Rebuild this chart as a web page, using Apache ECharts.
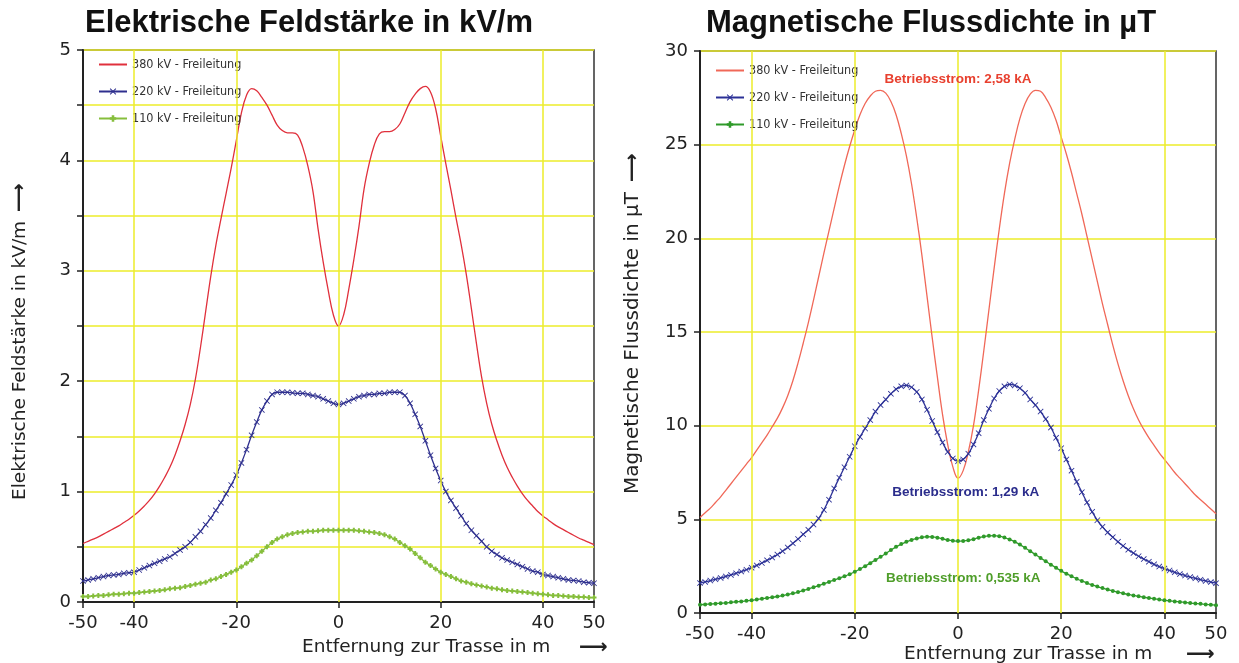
<!DOCTYPE html>
<html><head><meta charset="utf-8">
<script src="https://cdn.jsdelivr.net/npm/echarts@6/dist/echarts.min.js"></script>
<style>html,body{margin:0;padding:0;background:#fff}#c{width:1239px;height:663px}</style>
</head><body><div id="c"></div>
<script>
// ---- data ----
const distances = [-50,-49,-48,-47,-46,-45,-44,-43,-42,-41,-40,-39,-38,-37,-36,-35,-34,-33,-32,-31,-30,-29,-28,-27,-26,-25,-24,-23,-22,-21,-20,-19,-18,-17,-16,-15,-14,-13,-12,-11,-10,-9,-8,-7,-6,-5,-4,-3,-2,-1,0,1,2,3,4,5,6,7,8,9,10,11,12,13,14,15,16,17,18,19,20,21,22,23,24,25,26,27,28,29,30,31,32,33,34,35,36,37,38,39,40,41,42,43,44,45,46,47,48,49,50];

const seriesNames = ['380 kV - Freileitung','220 kV - Freileitung','110 kV - Freileitung'];

// Elektrische Feldstärke (kV/m)
const eField380 = [0.53,0.55,0.57,0.59,0.615,0.64,0.665,0.69,0.72,0.75,0.785,0.825,0.87,0.92,0.98,1.05,1.13,1.22,1.33,1.46,1.61,1.79,2.02,2.31,2.63,2.95,3.23,3.47,3.70,3.93,4.18,4.43,4.59,4.65,4.63,4.57,4.50,4.41,4.32,4.27,4.25,4.25,4.23,4.12,3.95,3.72,3.38,3.08,2.82,2.60,2.50,2.60,2.83,3.10,3.40,3.74,3.97,4.14,4.24,4.26,4.26,4.28,4.33,4.43,4.53,4.60,4.65,4.67,4.62,4.47,4.22,3.97,3.73,3.48,3.24,2.97,2.66,2.34,2.04,1.80,1.61,1.46,1.33,1.22,1.13,1.05,0.98,0.92,0.87,0.82,0.78,0.745,0.71,0.68,0.655,0.63,0.605,0.58,0.56,0.54,0.52];
const eField220 = [0.19,0.20,0.21,0.22,0.23,0.24,0.245,0.25,0.26,0.265,0.27,0.29,0.31,0.33,0.35,0.37,0.39,0.41,0.44,0.47,0.50,0.54,0.59,0.64,0.70,0.76,0.83,0.90,0.98,1.06,1.15,1.26,1.38,1.51,1.63,1.74,1.82,1.88,1.90,1.90,1.90,1.895,1.89,1.89,1.88,1.87,1.86,1.84,1.82,1.80,1.79,1.80,1.82,1.84,1.86,1.87,1.88,1.88,1.89,1.89,1.90,1.90,1.90,1.87,1.80,1.70,1.59,1.46,1.33,1.21,1.10,1.00,0.92,0.85,0.78,0.71,0.65,0.60,0.55,0.50,0.46,0.43,0.40,0.38,0.36,0.34,0.32,0.30,0.28,0.27,0.25,0.24,0.23,0.22,0.21,0.20,0.195,0.19,0.18,0.175,0.17];
const eField110 = [0.05,0.05,0.055,0.06,0.06,0.065,0.07,0.07,0.075,0.08,0.08,0.085,0.09,0.095,0.10,0.105,0.11,0.12,0.125,0.13,0.14,0.15,0.16,0.17,0.18,0.20,0.21,0.23,0.25,0.27,0.29,0.32,0.35,0.38,0.42,0.46,0.50,0.54,0.57,0.59,0.61,0.62,0.63,0.635,0.64,0.64,0.645,0.65,0.65,0.65,0.65,0.65,0.65,0.65,0.645,0.64,0.635,0.63,0.62,0.61,0.59,0.57,0.54,0.51,0.48,0.44,0.40,0.36,0.33,0.30,0.27,0.25,0.23,0.21,0.19,0.18,0.165,0.155,0.145,0.135,0.125,0.12,0.11,0.105,0.10,0.095,0.09,0.085,0.08,0.075,0.07,0.065,0.06,0.06,0.055,0.05,0.05,0.045,0.045,0.04,0.04];

// Magnetische Flussdichte (µT)
const bField380 = [5.1,5.35,5.6,5.9,6.2,6.55,6.9,7.25,7.6,7.95,8.3,8.7,9.1,9.5,9.95,10.4,10.95,11.6,12.4,13.35,14.4,15.5,16.7,17.95,19.2,20.4,21.6,22.8,23.9,24.9,25.8,26.6,27.2,27.6,27.85,27.9,27.75,27.3,26.6,25.6,24.4,22.9,21.1,19.1,16.9,14.7,12.6,10.6,9.0,7.8,7.2,7.6,8.6,10.0,11.9,14.0,16.2,18.4,20.5,22.4,24.0,25.3,26.4,27.2,27.7,27.9,27.85,27.5,27.0,26.3,25.4,24.5,23.5,22.4,21.3,20.1,18.9,17.7,16.5,15.4,14.3,13.3,12.4,11.6,10.9,10.3,9.8,9.35,8.95,8.55,8.2,7.85,7.5,7.2,6.9,6.6,6.3,6.05,5.8,5.55,5.3];
const bField220 = [1.6,1.66,1.73,1.8,1.87,1.95,2.03,2.12,2.21,2.31,2.42,2.54,2.67,2.81,2.96,3.12,3.3,3.5,3.72,3.95,4.2,4.44,4.72,5.05,5.5,6.05,6.65,7.22,7.78,8.34,8.9,9.4,9.85,10.3,10.75,11.1,11.4,11.7,11.95,12.1,12.15,12.05,11.8,11.4,10.85,10.25,9.65,9.1,8.6,8.25,8.1,8.2,8.5,9.0,9.6,10.3,10.9,11.45,11.85,12.1,12.2,12.15,12.0,11.75,11.4,11.1,10.75,10.35,9.9,9.35,8.8,8.2,7.6,7.0,6.45,5.9,5.4,4.95,4.6,4.3,4.05,3.8,3.58,3.38,3.2,3.03,2.88,2.74,2.6,2.48,2.37,2.27,2.17,2.08,2.0,1.92,1.85,1.78,1.71,1.65,1.59];
const bField110 = [0.44,0.46,0.48,0.5,0.52,0.54,0.57,0.6,0.62,0.65,0.68,0.72,0.76,0.8,0.84,0.88,0.93,0.99,1.05,1.12,1.2,1.28,1.37,1.46,1.56,1.66,1.76,1.86,1.96,2.07,2.2,2.35,2.5,2.66,2.83,3.0,3.18,3.36,3.53,3.68,3.8,3.9,3.98,4.04,4.07,4.06,4.02,3.96,3.9,3.86,3.84,3.85,3.88,3.94,4.02,4.08,4.12,4.13,4.1,4.03,3.93,3.8,3.65,3.48,3.3,3.12,2.94,2.76,2.58,2.41,2.25,2.1,1.96,1.83,1.71,1.6,1.5,1.41,1.33,1.25,1.18,1.11,1.05,0.99,0.94,0.89,0.84,0.8,0.76,0.72,0.68,0.65,0.62,0.59,0.56,0.53,0.51,0.49,0.46,0.44,0.42];

const xTickValues = [-50,-40,-20,0,20,40,50];
const xGridValues = [-40,-20,0,20,40];
const annotationTexts = ['Betriebsstrom: 2,58 kA','Betriebsstrom: 1,29 kA','Betriebsstrom: 0,535 kA'];
const annotationCoords = [[0,28.5],[1.5,6.45],[1,1.87]];

// ---- chart ----
const YEL = '#ecec2a';
const AX = '#222';
const xMark = 'path://M0,1L1,0L5,4L9,0L10,1L6,5L10,9L9,10L5,6L1,10L0,9L4,5Z';
const plusMark = 'path://M3,0L7,0L7,3L10,3L10,7L7,7L7,10L3,10L3,7L0,7L0,3L3,3Z';
const C = {
  eRed:'#e0303c', eBlue:'#2e2f8e', eGreen:'#86be3c',
  bRed:'#f06858', bBlue:'#2b3096', bGreen:'#2f9a2a'
};
function pairs(ys){ return distances.map((x,i)=>[x, ys[i]]); }

function xAxisFor(g){
  return {gridIndex:g, type:'value', min:-50, max:50, interval:10,
    axisLine:{show:true, onZero:false, lineStyle:{color:AX, width:2}},
    axisTick:{show:true, customValues:xTickValues, length:6, lineStyle:{color:AX, width:1.5}},
    axisLabel:{customValues:xTickValues, fontFamily:'DejaVu Sans', fontSize:18, color:AX, margin:12},
    splitLine:{show:false}};
}
function gridLines(g){
  return {type:'line', xAxisIndex:g, yAxisIndex:g, data:[], z:1, silent:true,
    markLine:{silent:true, symbol:['none','none'], animation:false, label:{show:false},
      lineStyle:{color:YEL, type:'solid', width:1.5},
      data:xGridValues.map(v=>({xAxis:v}))}};
}
function lineSeries(name, g, ys, color, symbol, size, z){
  return {name:name, type:'line', xAxisIndex:g, yAxisIndex:g, data:pairs(ys), z:z,
    smooth:0.4, symbol:symbol||'none', symbolSize:size||0, showSymbol:!!symbol,
    lineStyle:{color:color, width:1.3}, itemStyle:{color:color}, emphasis:{disabled:true}};
}
const legendText = {fontFamily:'DejaVu Sans Condensed', fontSize:12.5, color:'#333'};

const option = {
  animation:false,
  backgroundColor:'#fff',
  grid:[
    {left:83, top:50, width:511, height:552, show:true, borderColor:'#333', borderWidth:1.5, backgroundColor:'#fff'},
    {left:700, top:51, width:516, height:562, show:true, borderColor:'#333', borderWidth:1.5, backgroundColor:'#fff'}
  ],
  xAxis:[xAxisFor(0), xAxisFor(1)],
  yAxis:[
    {gridIndex:0, type:'value', min:0, max:5, interval:0.5,
     axisLine:{show:true, onZero:false, lineStyle:{color:AX, width:2}},
     axisTick:{show:true, length:6, lineStyle:{color:AX, width:1.5}},
     axisLabel:{fontFamily:'DejaVu Sans', fontSize:18, color:AX, margin:12,
       formatter:v=>Number.isInteger(v)?String(v):''},
     splitLine:{show:true, lineStyle:{color:YEL, width:1.5}}},
    {gridIndex:1, type:'value', min:0, max:30, interval:5,
     axisLine:{show:true, onZero:false, lineStyle:{color:AX, width:2}},
     axisTick:{show:true, length:6, lineStyle:{color:AX, width:1.5}},
     axisLabel:{fontFamily:'DejaVu Sans', fontSize:18, color:AX, margin:12},
     splitLine:{show:true, lineStyle:{color:YEL, width:1.5}}}
  ],
  legend:[
    {left:93, top:53, orient:'vertical', itemWidth:28, itemHeight:8, itemGap:14, selectedMode:false,
     textStyle:legendText,
     data:[
       {name:seriesNames[0], itemStyle:{color:C.eRed, opacity:0}, lineStyle:{color:C.eRed}},
       {name:seriesNames[1], itemStyle:{color:C.eBlue}, lineStyle:{color:C.eBlue}},
       {name:seriesNames[2], itemStyle:{color:C.eGreen}, lineStyle:{color:C.eGreen}}]},
    {left:710, top:59, orient:'vertical', itemWidth:28, itemHeight:8, itemGap:14, selectedMode:false,
     textStyle:legendText,
     data:[
       {name:seriesNames[0], itemStyle:{color:C.bRed, opacity:0}, lineStyle:{color:C.bRed}},
       {name:seriesNames[1], itemStyle:{color:C.bBlue}, lineStyle:{color:C.bBlue}},
       {name:seriesNames[2], itemStyle:{color:C.bGreen}, lineStyle:{color:C.bGreen}}]}
  ],
  series:[
    gridLines(0), gridLines(1),
    lineSeries(seriesNames[0],0,eField380,C.eRed,null,0,3),
    lineSeries(seriesNames[1],0,eField220,C.eBlue,xMark,6,4),
    lineSeries(seriesNames[2],0,eField110,C.eGreen,plusMark,5,5),
    Object.assign(lineSeries(seriesNames[0],1,bField380,C.bRed,null,0,3), {
      markPoint:{silent:true, symbol:'circle', symbolSize:1, itemStyle:{color:'rgba(0,0,0,0)'},
        label:{show:true, position:'inside', fontFamily:'Liberation Sans', fontWeight:'bold', fontSize:13.5},
        data:annotationTexts.map((t,i)=>({coord:annotationCoords[i], value:t,
          label:{formatter:t, color:[ '#e8402f','#2b2d8c','#4f9e2a'][i]}}))}}),
    lineSeries(seriesNames[1],1,bField220,C.bBlue,xMark,6,4),
    lineSeries(seriesNames[2],1,bField110,C.bGreen,'circle',4,5)
  ],
  graphic:[
    {type:'text', x:309, y:23, style:{text:'Elektrische Feldstärke in kV/m', font:'bold 31px "Liberation Sans"', fill:'#111', align:'center', verticalAlign:'middle'}},
    {type:'text', x:931, y:23, style:{text:'Magnetische Flussdichte in µT', font:'bold 31px "Liberation Sans"', fill:'#111', align:'center', verticalAlign:'middle'}},
    {type:'text', x:20, y:500, rotation:Math.PI/2, style:{text:'Elektrische Feldstärke in kV/m', font:'18.5px "DejaVu Sans"', fill:'#222', align:'left', verticalAlign:'middle'}},
    {type:'text', x:20, y:212, rotation:Math.PI/2, style:{text:'⟶', font:'bold 20px "DejaVu Sans"', fill:'#222', align:'left', verticalAlign:'middle'}},
    {type:'text', x:633, y:494, rotation:Math.PI/2, style:{text:'Magnetische Flussdichte in µT', font:'20px "DejaVu Sans"', fill:'#222', align:'left', verticalAlign:'middle'}},
    {type:'text', x:633, y:182, rotation:Math.PI/2, style:{text:'⟶', font:'bold 20px "DejaVu Sans"', fill:'#222', align:'left', verticalAlign:'middle'}},
    {type:'text', x:302, y:647, style:{text:'Entfernung zur Trasse in m', font:'18.5px "DejaVu Sans"', fill:'#222', align:'left', verticalAlign:'middle'}},
    {type:'text', x:579, y:648, style:{text:'⟶', font:'bold 20px "DejaVu Sans"', fill:'#222', align:'left', verticalAlign:'middle'}},
    {type:'text', x:904, y:654, style:{text:'Entfernung zur Trasse in m', font:'18.5px "DejaVu Sans"', fill:'#222', align:'left', verticalAlign:'middle'}},
    {type:'text', x:1186, y:655, style:{text:'⟶', font:'bold 20px "DejaVu Sans"', fill:'#222', align:'left', verticalAlign:'middle'}}
  ]
};
const chart = echarts.init(document.getElementById('c'), null, {renderer:'canvas'});
chart.setOption(option);
</script></body></html>
